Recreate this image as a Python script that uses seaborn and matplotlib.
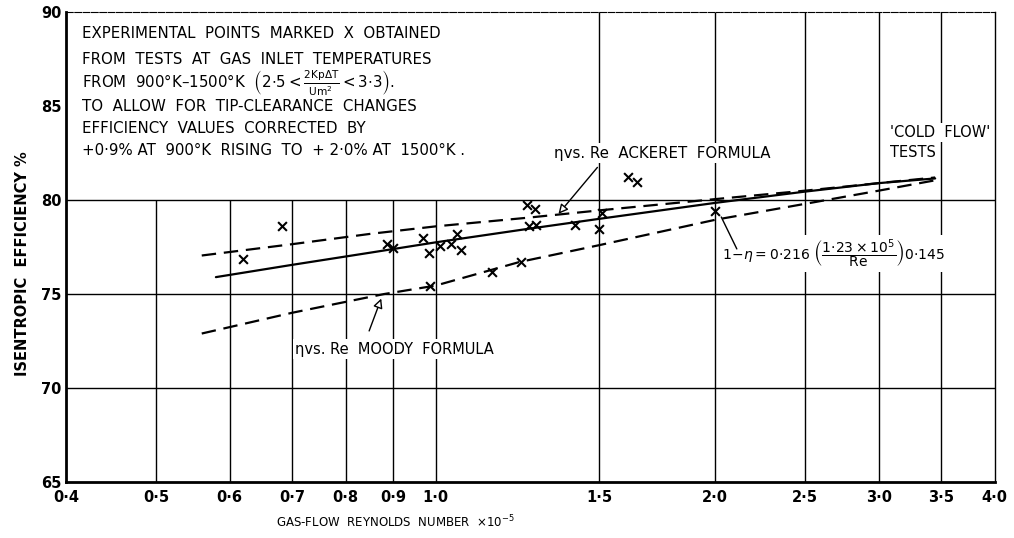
import matplotlib
matplotlib.use("Agg")
import matplotlib.pyplot as plt
import seaborn as sns
import pandas as pd

# ---------------- data ----------------
re_ackeret = [0.56, 0.70, 0.85, 1.00, 1.25, 1.50, 2.00, 2.50, 3.00, 3.45]
eta_ackeret = [77.05, 77.65, 78.2, 78.6, 79.05, 79.45, 80.05, 80.5, 80.9, 81.2]

re_fit = [0.58, 0.70, 0.85, 1.00, 1.25, 1.50, 2.00, 2.50, 3.00, 3.45]
eta_fit = [75.9, 76.55, 77.2, 77.75, 78.45, 79.0, 79.85, 80.45, 80.9, 81.15]

re_moody = [0.56, 0.70, 0.88, 1.00, 1.23, 1.50, 2.00, 2.50, 3.00, 3.45]
eta_moody = [72.9, 74.0, 75.0, 75.45, 76.7, 77.6, 78.95, 79.8, 80.5, 81.05]

re_points = [0.62, 0.684, 0.886, 0.90, 0.97, 0.984, 1.011, 1.04, 1.054, 1.064,
             0.986, 1.149, 1.236, 1.253, 1.28, 1.26, 1.282, 1.412, 1.509, 1.50,
             1.612, 1.646, 2.0]
eta_points = [76.85, 78.6, 77.68, 77.45, 77.98, 77.2, 77.55, 77.68, 78.17, 77.36,
              75.45, 76.15, 76.69, 79.72, 79.54, 78.6, 78.69, 78.69, 79.33, 78.48,
              81.22, 80.96, 79.4]

x_ticks = [0.4, 0.5, 0.6, 0.7, 0.8, 0.9, 1.0, 1.5, 2.0, 2.5, 3.0, 3.5, 4.0]
x_tick_labels = ["0·4", "0·5", "0·6", "0·7", "0·8", "0·9", "1·0",
                 "1·5", "2·0", "2·5", "3·0", "3·5", "4·0"]
y_ticks = [65, 70, 75, 80, 85, 90]
y_tick_labels = ["65", "70", "75", "80", "85", "90"]
grid_low = [0.5, 0.6, 0.7, 0.8, 0.9, 1.0]
grid_high = [1.5, 2.0, 2.5, 3.0, 3.5]
grid_h = [70, 75, 80]

# ---------------- style ----------------
sns.set_theme(style="white")
plt.rcParams["font.family"] = ["DejaVu Sans"]
plt.rcParams["mathtext.fontset"] = "dejavusans"
plt.rcParams["text.color"] = "black"
plt.rcParams["xtick.color"] = "black"
plt.rcParams["ytick.color"] = "black"
plt.rcParams["xtick.labelcolor"] = "black"
plt.rcParams["ytick.labelcolor"] = "black"

fig = plt.figure(figsize=(10.14, 5.38), dpi=100)
ax = fig.add_axes([0.0651, 0.104, 0.916, 0.8736])
ax.set_xscale("log")
ax.set_xlim(0.4, 4.0)
ax.set_ylim(65, 90)

# grid (drawn manually, broken at the text block as in the reference)
ax.vlines(grid_low, 65, 80, color="black", lw=1.0, zorder=1)
ax.vlines(grid_high, 65, 90, color="black", lw=1.0, zorder=1)
ax.hlines(grid_h, 0.4, 4.0, color="black", lw=1.0, zorder=1)

df_a = pd.DataFrame({"Re": re_ackeret, "eta": eta_ackeret})
df_f = pd.DataFrame({"Re": re_fit, "eta": eta_fit})
df_m = pd.DataFrame({"Re": re_moody, "eta": eta_moody})
df_p = pd.DataFrame({"Re": re_points, "eta": eta_points})

sns.lineplot(data=df_a, x="Re", y="eta", ax=ax, color="black", lw=1.6,
             sort=False, estimator=None, zorder=3,
             linestyle=(0, (6.5, 3.5)))
sns.lineplot(data=df_f, x="Re", y="eta", ax=ax, color="black", lw=1.6,
             sort=False, estimator=None, zorder=3)
sns.lineplot(data=df_m, x="Re", y="eta", ax=ax, color="black", lw=1.6,
             sort=False, estimator=None, zorder=3,
             linestyle=(0, (6.5, 3.5)))
sns.scatterplot(data=df_p, x="Re", y="eta", ax=ax, marker="x", color="black",
                s=40, linewidth=1.5, zorder=4)

# ---------------- axes ----------------
ax.set_xticks(x_ticks)
ax.set_xticklabels(x_tick_labels, fontsize=10.5, fontweight="bold")
ax.xaxis.set_minor_locator(matplotlib.ticker.NullLocator())
ax.set_yticks(y_ticks)
ax.set_yticklabels(y_tick_labels, fontsize=10.5, fontweight="bold")
ax.tick_params(axis="x", length=0, pad=6, colors="black")
ax.tick_params(axis="y", direction="in", length=6, width=1.2, pad=3,
               colors="black")
ax.set_xlabel("")
ax.set_ylabel("")

for side in ["left", "bottom"]:
    ax.spines[side].set_linewidth(2.0)
ax.spines["top"].set_linewidth(0.8)
ax.spines["top"].set_linestyle((0, (6, 1.5)))
ax.spines["right"].set_linewidth(1.0)
for s in ax.spines.values():
    s.set_color("black")

fig.text(0.022, 0.51, "ISENTROPIC  EFFICIENCY %", rotation=90, ha="center",
         va="center", fontsize=10.5, fontweight="bold")
fig.text(0.39, 0.03, "GAS-FLOW  REYNOLDS  NUMBER  $\\times$10$^{-5}$",
         ha="center", va="center", fontsize=8.5)

# ---------------- annotations ----------------
tkw = dict(transform=ax.transAxes, fontsize=10.8, ha="left", va="center")
ax.text(0.017, 0.955, "EXPERIMENTAL  POINTS  MARKED  X  OBTAINED", **tkw)
ax.text(0.017, 0.900, "FROM  TESTS  AT  GAS  INLET  TEMPERATURES", **tkw)
ax.text(0.017, 0.848,
        "FROM  900°K–1500°K  "
        r"$\left(2{\cdot}5<\frac{\mathrm{2Kp\Delta T}}{\mathrm{Um^2}}<3{\cdot}3\right)$.",
        **tkw)
ax.text(0.017, 0.798, "TO  ALLOW  FOR  TIP-CLEARANCE  CHANGES", **tkw)
ax.text(0.017, 0.753, "EFFICIENCY  VALUES  CORRECTED  BY", **tkw)
ax.text(0.017, 0.706, "+0·9% AT  900°K  RISING  TO  + 2·0% AT  1500°K .", **tkw)

white = dict(facecolor="white", edgecolor="none", pad=1.5)

ax.text(0.525, 0.70, "ηvs. Re  ACKERET  FORMULA", transform=ax.transAxes,
        fontsize=10.8, ha="left", va="center", bbox=white, zorder=5)
ax.annotate("", xy=(1.35, 79.15), xytext=(1.5, 81.85),
            arrowprops=dict(arrowstyle="-|>", color="black", lw=1.0,
                            fc="white", mutation_scale=14), zorder=5)

ax.text(0.887, 0.743, "'COLD  FLOW'", transform=ax.transAxes, fontsize=10.5,
        ha="left", va="center", bbox=white, zorder=5)
ax.text(0.887, 0.702, "TESTS", transform=ax.transAxes, fontsize=10.5,
        ha="left", va="center", bbox=white, zorder=5)

ax.text(0.706, 0.487,
        r"$1\!-\!\eta = 0{\cdot}216\ \left(\dfrac{1{\cdot}23\times10^5}{\mathrm{Re}}\right)0{\cdot}145$",
        transform=ax.transAxes, fontsize=10, ha="left", va="center",
        bbox=white, zorder=5)
ax.plot([2.03, 2.11], [79.1, 77.4], color="black", lw=1.0, zorder=5)

ax.text(0.2465, 0.283, "ηvs. Re  MOODY  FORMULA", transform=ax.transAxes,
        fontsize=10.5, ha="left", va="center", bbox=white, zorder=5)
ax.annotate("", xy=(0.876, 74.9), xytext=(0.846, 72.9),
            arrowprops=dict(arrowstyle="-|>", color="black", lw=1.0,
                            fc="white", mutation_scale=14), zorder=5)

fig.savefig("out.png", dpi=100, facecolor="white")
